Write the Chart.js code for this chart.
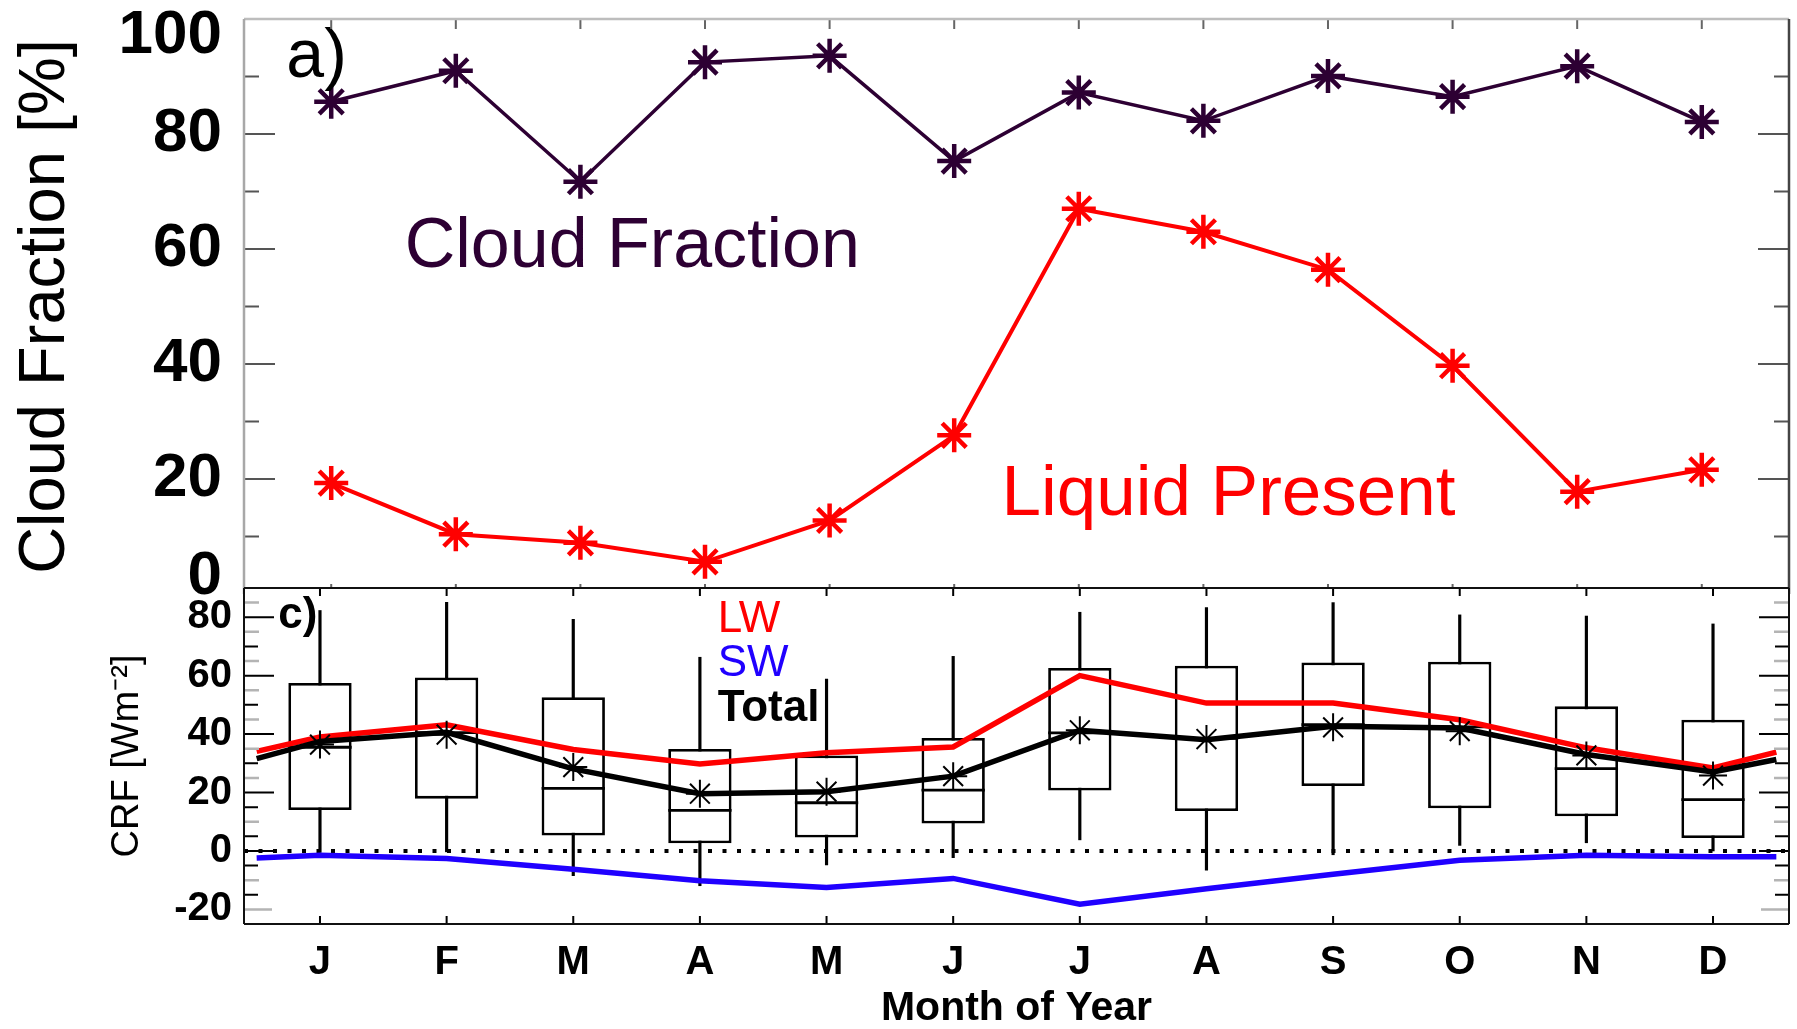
<!DOCTYPE html>
<html lang="en">
<head>
<meta charset="UTF-8">
<title>Cloud Fraction and CRF by Month</title>
<script src="https://cdn.jsdelivr.net/npm/chart.js"></script>
<style>
    body { margin: 0; background: #fff; overflow: hidden; }
    #wrap { position: relative; width: 1797px; height: 1029px; }
    canvas { position: absolute; left: 0; top: 0; }
</style>
</head>
<body>
<div id="wrap">
    <canvas id="cloudChart" width="1797" height="600"></canvas>
    <canvas id="crfChart" width="1797" height="1029"></canvas>
</div>
<script>
    const FONT = '"Liberation Sans", Arial, Helvetica, sans-serif';
    Chart.defaults.font.family = FONT;

    const months = ['J', 'F', 'M', 'A', 'M', 'J', 'J', 'A', 'S', 'O', 'N', 'D'];
    const monthPos = [1, 2, 3, 4, 5, 6, 7, 8, 9, 10, 11, 12];

    // panel a) monthly occurrence, %
    const cloudFraction = [85.6, 91.0, 71.7, 92.5, 93.6, 75.3, 87.2, 82.3, 90.1, 86.5, 91.8, 82.1];
    const liquidPresent = [19.3, 10.4, 8.9, 5.6, 12.8, 27.6, 67.0, 63.0, 56.4, 39.7, 17.8, 21.6];
    const cfTicks = [0, 20, 40, 60, 80, 100];

    // panel c) cloud radiative forcing, W m-2 (box = quartiles, whiskers = range)
    const crfMin    = [-0.5, -0.3, -8.5, -11.9, -4.8, -2.3, 3.8, -6.6, -1.3, 1.9, 2.8, 0.0];
    const crfQ1     = [14.0, 17.9, 5.3, 2.6, 4.6, 9.4, 20.7, 13.7, 22.2, 14.6, 11.9, 4.4];
    const crfMedian = [35.5, 40.5, 21.4, 13.9, 16.5, 20.8, 40.4, 38.5, 43.2, 42.5, 28.2, 17.6];
    const crfQ3     = [57.5, 59.4, 52.6, 34.9, 32.7, 38.7, 62.6, 63.4, 64.5, 64.8, 49.5, 44.9];
    const crfMax    = [82.3, 85.1, 79.3, 66.3, 58.8, 66.6, 81.7, 83.3, 85.0, 80.8, 80.4, 77.7];
    const crfMean   = [36.4, 39.8, 28.7, 19.6, 20.3, 25.6, 41.3, 38.3, 42.3, 41.0, 32.7, 25.8];

    // monthly mean fluxes, wrapped half a month past each end
    const fluxPos  = [0.5, 1, 2, 3, 4, 5, 6, 7, 8, 9, 10, 11, 12, 12.5];
    const lwCrf    = [34.1, 39.0, 43.2, 34.7, 29.8, 33.6, 35.6, 60.0, 50.6, 50.6, 44.9, 35.3, 28.4, 33.8];
    const swCrf    = [-2.4, -1.5, -2.6, -6.3, -10.2, -12.5, -9.4, -18.2, -12.9, -8.0, -3.2, -1.5, -2.0, -2.0];
    const totalCrf = [31.6, 37.5, 40.6, 28.1, 19.6, 20.3, 25.6, 41.3, 38.1, 42.7, 42.1, 33.0, 27.0, 31.3];
    const crfTicks = [-20, 0, 20, 40, 60, 80];

    const cfRange = [0.3, 12.7];
    const crfRange = [0.4, 12.6];
    const boxFrac = 0.5;

    const purple = '#2d0033';
    const red = '#ff0000';
    const blue = '#2000ff';

    const pts = (xs, ys) => xs.map((x, i) => ({x: x, y: ys[i]}));

    // fixed axis sizes, no extra room for label overhang
    const fixWidth = w => s => { s.width = w; s.paddingTop = 0; s.paddingBottom = 0; };
    const fixHeight = h => s => { s.height = h; s.paddingLeft = 0; s.paddingRight = 0; };

    // inward tick marks plus the plot frame
    function tickFrame(cfg) {
        return {
            id: 'tickFrame',
            afterDraw(chart) {
                const {ctx, chartArea: a, scales} = chart;
                ctx.save();
                ctx.lineCap = 'butt';
                cfg.marks.forEach(m => {
                    const s = scales[m.axis];
                    ctx.strokeStyle = m.color;
                    ctx.lineWidth = m.width;
                    ctx.beginPath();
                    m.values.forEach(v => {
                        const p = s.getPixelForValue(v);
                        m.sides.forEach(side => {
                            if (side === 'left')   { ctx.moveTo(a.left, p);   ctx.lineTo(a.left + m.len, p); }
                            if (side === 'right')  { ctx.moveTo(a.right, p);  ctx.lineTo(a.right - m.len, p); }
                            if (side === 'top')    { ctx.moveTo(p, a.top);    ctx.lineTo(p, a.top + m.len); }
                            if (side === 'bottom') { ctx.moveTo(p, a.bottom); ctx.lineTo(p, a.bottom - m.len); }
                        });
                    });
                    ctx.stroke();
                });
                const f = cfg.frame;
                const edges = {
                    top: [a.left, a.top, a.right, a.top],
                    right: [a.right, a.top, a.right, a.bottom],
                    bottom: [a.left, a.bottom, a.right, a.bottom],
                    left: [a.left, a.top, a.left, a.bottom]
                };
                ctx.lineWidth = f.width;
                Object.keys(edges).forEach(k => {
                    const e = edges[k];
                    ctx.strokeStyle = f[k];
                    ctx.beginPath();
                    ctx.moveTo(e[0], e[1]);
                    ctx.lineTo(e[2], e[3]);
                    ctx.stroke();
                });
                ctx.restore();
            }
        };
    }

    // text placed in data coordinates
    function textNotes(items) {
        return {
            id: 'textNotes',
            afterDatasetsDraw(chart) {
                const {ctx, scales: {x, y}} = chart;
                ctx.save();
                ctx.textAlign = 'left';
                ctx.textBaseline = 'alphabetic';
                items.forEach(t => {
                    ctx.font = t.font;
                    ctx.fillStyle = t.color;
                    ctx.fillText(t.text, x.getPixelForValue(t.x), y.getPixelForValue(t.y));
                });
                ctx.restore();
            }
        };
    }

    // lower panel sits over the upper one, so blank its plot area first
    const whiteArea = {
        id: 'whiteArea',
        beforeDraw(chart) {
            const {ctx, chartArea: a} = chart;
            ctx.save();
            ctx.fillStyle = '#fff';
            ctx.fillRect(a.left, a.top, a.width, a.height);
            ctx.restore();
        }
    };

    const starPoints = color => ({
        pointStyle: 'star', pointRadius: 17, pointBorderWidth: 4.5,
        pointBorderColor: color, pointBackgroundColor: color
    });

    // ---- a) cloud fraction ----
    new Chart(document.getElementById('cloudChart'), {
        type: 'line',
        data: {
            datasets: [
                Object.assign({ label: 'Cloud Fraction', data: pts(monthPos, cloudFraction),
                    borderColor: purple, borderWidth: 3.5 }, starPoints(purple)),
                Object.assign({ label: 'Liquid Present', data: pts(monthPos, liquidPresent),
                    borderColor: red, borderWidth: 4 }, starPoints(red))
            ]
        },
        options: {
            responsive: false,
            animation: false,
            events: [],
            layout: { autoPadding: false, padding: { top: 19, right: 8, bottom: 6, left: 0 } },
            plugins: { legend: { display: false }, tooltip: { enabled: false } },
            scales: {
                x: {
                    type: 'linear', min: cfRange[0], max: cfRange[1], bounds: 'data',
                    ticks: { display: false },
                    grid: { display: false, drawTicks: false },
                    border: { display: false },
                    afterFit: fixHeight(0)
                },
                y: {
                    min: 0, max: 100, bounds: 'data',
                    afterBuildTicks: s => { s.ticks = cfTicks.map(v => ({value: v})); },
                    ticks: {
                        // end labels nudged inward so they stay clear of the frame corners
                        callback: v => v === 0 ? ['0', ''] : (v === 100 ? ['', '100'] : String(v)),
                        font: { size: 62, weight: 'bold', lineHeight: '34px' },
                        color: '#000',
                        padding: 22
                    },
                    grid: { display: false, drawTicks: false },
                    border: { display: false },
                    title: {
                        display: true, text: 'Cloud Fraction [%]', color: '#000',
                        font: { size: 65, lineHeight: 1.2 }, padding: { top: 7, bottom: 0 }
                    },
                    afterFit: fixWidth(244)
                }
            }
        },
        plugins: [
            textNotes([
                { text: 'a)', x: 0.64, y: 89.9, font: '68px ' + FONT, color: '#000' },
                { text: 'Cloud Fraction', x: 1.59, y: 56.8, font: '70px ' + FONT, color: purple },
                { text: 'Liquid Present', x: 6.38, y: 13.7, font: '71px ' + FONT, color: red }
            ]),
            tickFrame({
                marks: [
                    { axis: 'y', values: [20, 40, 60, 80], len: 31, color: '#555', width: 2, sides: ['left', 'right'] },
                    { axis: 'y', values: [10, 30, 50, 70, 90], len: 15, color: '#555', width: 2, sides: ['left', 'right'] },
                    { axis: 'x', values: monthPos, len: 10, color: '#666', width: 2, sides: ['top', 'bottom'] }
                ],
                frame: { width: 2.5, top: '#bdbdbd', left: '#a8a8a8', right: '#444', bottom: '#222' }
            })
        ]
    });

    // ---- c) cloud radiative forcing ----
    const medianSegs = monthPos.flatMap((p, i) => [
        {x: p - boxFrac / 2, y: crfMedian[i]},
        {x: p + boxFrac / 2, y: crfMedian[i]},
        {x: p, y: null}
    ]);

    const fluxLine = (label, ys, color, order) => ({
        type: 'line', label: label, data: pts(fluxPos, ys),
        borderColor: color, borderWidth: 5.5, pointRadius: 0, order: order
    });

    new Chart(document.getElementById('crfChart'), {
        type: 'line',
        data: {
            datasets: [
                { type: 'bar', label: 'range', order: 6, grouped: false,
                  data: monthPos.map((p, i) => ({x: p, y: [crfMin[i], crfMax[i]]})),
                  backgroundColor: '#000', borderWidth: 0, barThickness: 2.5 },
                { type: 'bar', label: 'quartiles', order: 5, grouped: false,
                  data: monthPos.map((p, i) => ({x: p, y: [crfQ1[i], crfQ3[i]]})),
                  backgroundColor: '#fff', borderColor: '#000', borderWidth: 2.8, borderSkipped: false,
                  categoryPercentage: 1, barPercentage: boxFrac },
                { type: 'line', label: 'median', order: 4, data: medianSegs,
                  borderColor: '#000', borderWidth: 2.8, pointRadius: 0, spanGaps: false },
                { type: 'line', label: 'zero', order: 3,
                  data: [{x: crfRange[0], y: 0}, {x: crfRange[1], y: 0}],
                  borderColor: '#000', borderWidth: 4, borderDash: [4, 10.5], pointRadius: 0 },
                fluxLine('SW', swCrf, blue, 2),
                fluxLine('LW', lwCrf, red, 2),
                fluxLine('Total', totalCrf, '#000', 1),
                { type: 'line', label: 'mean', order: 0, data: pts(monthPos, crfMean), showLine: false,
                  pointStyle: 'star', pointRadius: 14, pointBorderWidth: 2,
                  pointBorderColor: '#000', pointBackgroundColor: '#000' }
            ]
        },
        options: {
            responsive: false,
            animation: false,
            events: [],
            layout: { autoPadding: false, padding: { top: 588, right: 8, bottom: 0, left: 0 } },
            plugins: { legend: { display: false }, tooltip: { enabled: false } },
            scales: {
                x: {
                    type: 'linear', min: crfRange[0], max: crfRange[1], bounds: 'data', offset: false,
                    afterBuildTicks: s => { s.ticks = monthPos.map(v => ({value: v})); },
                    ticks: {
                        callback: v => months[monthPos.indexOf(v)],
                        font: { size: 40, weight: 'bold' }, color: '#000',
                        padding: 15, maxRotation: 0, autoSkip: false
                    },
                    grid: { display: false, drawTicks: false, offset: false },
                    border: { display: false },
                    title: {
                        display: true, text: 'Month of Year', color: '#000',
                        font: { size: 41, weight: 'bold', lineHeight: 1 }, padding: 0
                    },
                    afterFit: fixHeight(105)
                },
                y: {
                    min: -25, max: 90, bounds: 'data',
                    afterBuildTicks: s => { s.ticks = crfTicks.map(v => ({value: v})); },
                    ticks: {
                        callback: v => String(v),
                        font: { size: 40, weight: 'bold' }, color: '#000', padding: 12
                    },
                    grid: { display: false, drawTicks: false },
                    border: { display: false },
                    title: {
                        display: true, text: 'CRF [Wm⁻²]', color: '#000',
                        font: { size: 38, lineHeight: 1.2 }, padding: { top: 105, bottom: 0 }
                    },
                    afterFit: fixWidth(244)
                }
            }
        },
        plugins: [
            whiteArea,
            textNotes([
                { text: 'c)', x: 0.67, y: 76.2, font: 'bold 44px ' + FONT, color: '#000' },
                { text: 'LW', x: 4.14, y: 74.9, font: '44px ' + FONT, color: red },
                { text: 'SW', x: 4.14, y: 60.0, font: '44px ' + FONT, color: blue },
                { text: 'Total', x: 4.14, y: 44.6, font: 'bold 44px ' + FONT, color: '#000' }
            ]),
            tickFrame({
                marks: [
                    { axis: 'y', values: [0, 20, 40, 60, 80], len: 30, color: '#000', width: 2, sides: ['left', 'right'] },
                    { axis: 'y', values: [70, 50, 30, 15, 5, -5, -15], len: 14, color: '#000', width: 2, sides: ['left', 'right'] },
                    { axis: 'y', values: [85, 75, 65, 55, 45, 35, 25, 10, -10], len: 15, color: '#b4b4b4', width: 2.5, sides: ['left', 'right'] },
                    { axis: 'y', values: [-20], len: 28, color: '#b4b4b4', width: 2.5, sides: ['left', 'right'] },
                    { axis: 'x', values: monthPos, len: 8, color: '#000', width: 2, sides: ['top', 'bottom'] }
                ],
                frame: { width: 2, top: '#111', left: '#111', right: '#111', bottom: '#111' }
            })
        ]
    });
</script>
</body>
</html>
